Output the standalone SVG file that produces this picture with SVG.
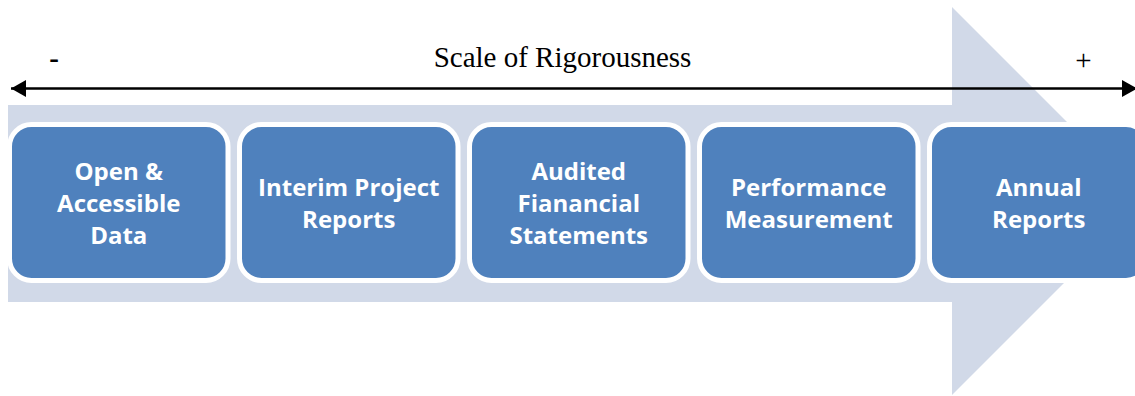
<svg xmlns="http://www.w3.org/2000/svg" width="1135" height="396" viewBox="0 0 1135 396">
<style>
.box{fill:#4F81BD;stroke:#FFFFFF;stroke-width:5}
.lbl{font-family:"Open Sans","Liberation Sans",sans-serif;font-weight:bold;font-size:24px;fill:#FFFFFF;text-anchor:middle}
.ser{font-family:"Liberation Serif","Times New Roman",serif;font-size:29px;fill:#000000}
</style>
<defs>
<marker id="ah" markerUnits="userSpaceOnUse" markerWidth="16" markerHeight="17" refX="15" refY="8.5" orient="auto-start-reverse">
<path d="M0,0 L15,8.5 L0,17 Z" fill="#000000"/>
</marker>
</defs>
<rect width="1135" height="396" fill="#FFFFFF"/>
<polygon id="bigArrow" points="8,105 952,105 952,7 1146,201 952,395 952,302 8,302" fill="#D1D9E8"/>
<g id="node1"><rect class="box" x="9.5" y="124.5" width="218.5" height="156" rx="22"/>
<text class="lbl" x="118.75" y="180">Open &amp;</text><text class="lbl" x="118.75" y="212">Accessible</text><text class="lbl" x="118.75" y="244">Data</text></g>
<g id="node2"><rect class="box" x="239.5" y="124.5" width="218.5" height="156" rx="22"/>
<text class="lbl" x="348.75" y="196">Interim Project</text><text class="lbl" x="348.75" y="228">Reports</text></g>
<g id="node3"><rect class="box" x="469.5" y="124.5" width="218.5" height="156" rx="22"/>
<text class="lbl" x="578.75" y="180">Audited</text><text class="lbl" x="578.75" y="212">Fianancial</text><text class="lbl" x="578.75" y="244">Statements</text></g>
<g id="node4"><rect class="box" x="699.5" y="124.5" width="218.5" height="156" rx="22"/>
<text class="lbl" x="808.75" y="196">Performance</text><text class="lbl" x="808.75" y="228">Measurement</text></g>
<g id="node5"><rect class="box" x="929.5" y="124.5" width="218.5" height="156" rx="22"/>
<text class="lbl" x="1038.75" y="196">Annual</text><text class="lbl" x="1038.75" y="228">Reports</text></g>
<g id="connectors">
<line x1="11" y1="88.5" x2="1137" y2="88.5" stroke="#000000" stroke-width="2.5" marker-start="url(#ah)" marker-end="url(#ah)"/>
</g>
<g id="labels">
<text class="ser" x="562.5" y="67" text-anchor="middle">Scale of Rigorousness</text>
<text class="ser" x="54" y="68" text-anchor="middle" font-weight="bold">-</text>
<text class="ser" x="1083.5" y="70" text-anchor="middle">+</text>
</g>
</svg>
